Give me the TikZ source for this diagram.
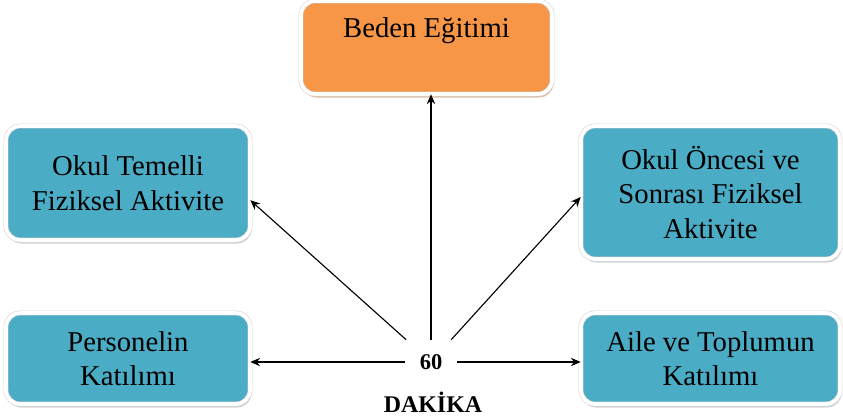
\documentclass[tikz,border=0pt]{standalone}
\usepackage{fontspec}
\setmainfont{Liberation Serif}
\usetikzlibrary{arrows.meta, shadows}
\definecolor{BoxTeal}{HTML}{4BACC6}
\definecolor{BoxOrange}{HTML}{F79646}
\definecolor{ShadeGray}{HTML}{A3AAAD}
\definecolor{ShadeBrown}{HTML}{BE8450}

\tikzset{
  topic/.style={rounded corners=10pt, draw=black!18, double=white, double distance=2.6pt,
    line width=0.4pt, align=center, font=\fontsize{20.4}{24.5}\selectfont},
  tealbox/.style={topic, fill=BoxTeal,
    drop shadow={shadow xshift=1pt, shadow yshift=-2.5pt, fill=ShadeGray}},
  orangebox/.style={topic, fill=BoxOrange,
    drop shadow={shadow xshift=1pt, shadow yshift=-2.5pt, fill=ShadeBrown}},
  link/.style={-{Stealth[length=7pt,width=6pt]}, line width=0.8pt, black},
}

\begin{document}
\begin{tikzpicture}[x=0.025cm, y=-0.025cm]
    \useasboundingbox (0,0) rectangle (843,420);

    % Centre
    \node[font=\fontsize{16}{18}\selectfont\bfseries, inner sep=0.36cm] (sixty) at (431,362) {60};
    \node[font=\fontsize{17}{20}\selectfont\bfseries] (dakika) at (433,402) {DAKİKA};

    % Top box
    \node[orangebox, minimum width=6.275cm, text height=0.925cm, text depth=1.4cm,
      inner ysep=0pt] (beden) at (426.5,47.5) {Beden Eğitimi};

    % Side boxes
    \node[tealbox, minimum width=6.1cm, minimum height=2.85cm] (temelli) at (128,183)
      {Okul Temelli\\Fiziksel Aktivite};
    \node[tealbox, minimum width=6.475cm, minimum height=3.325cm] (oncesi) at (710.5,192.5)
      {Okul Öncesi ve\\Sonrası Fiziksel\\Aktivite};
    \node[tealbox, minimum width=6.1cm, minimum height=2.275cm] (personel) at (128,358.5)
      {Personelin\\Katılımı};
    \node[tealbox, minimum width=6.475cm, minimum height=2.275cm] (aile) at (710.5,358.5)
      {Aile ve Toplumun\\Katılımı};

    % Arrows
    \draw[link] (sixty) -- (beden.south -| sixty);
    \draw[link] (sixty) -- (temelli.-8);
    \draw[link] (sixty) -- (oncesi.182);
    \draw[link] (sixty) -- (personel.east |- sixty);
    \draw[link] (sixty) -- (aile.west |- sixty);
\end{tikzpicture}
\end{document}
